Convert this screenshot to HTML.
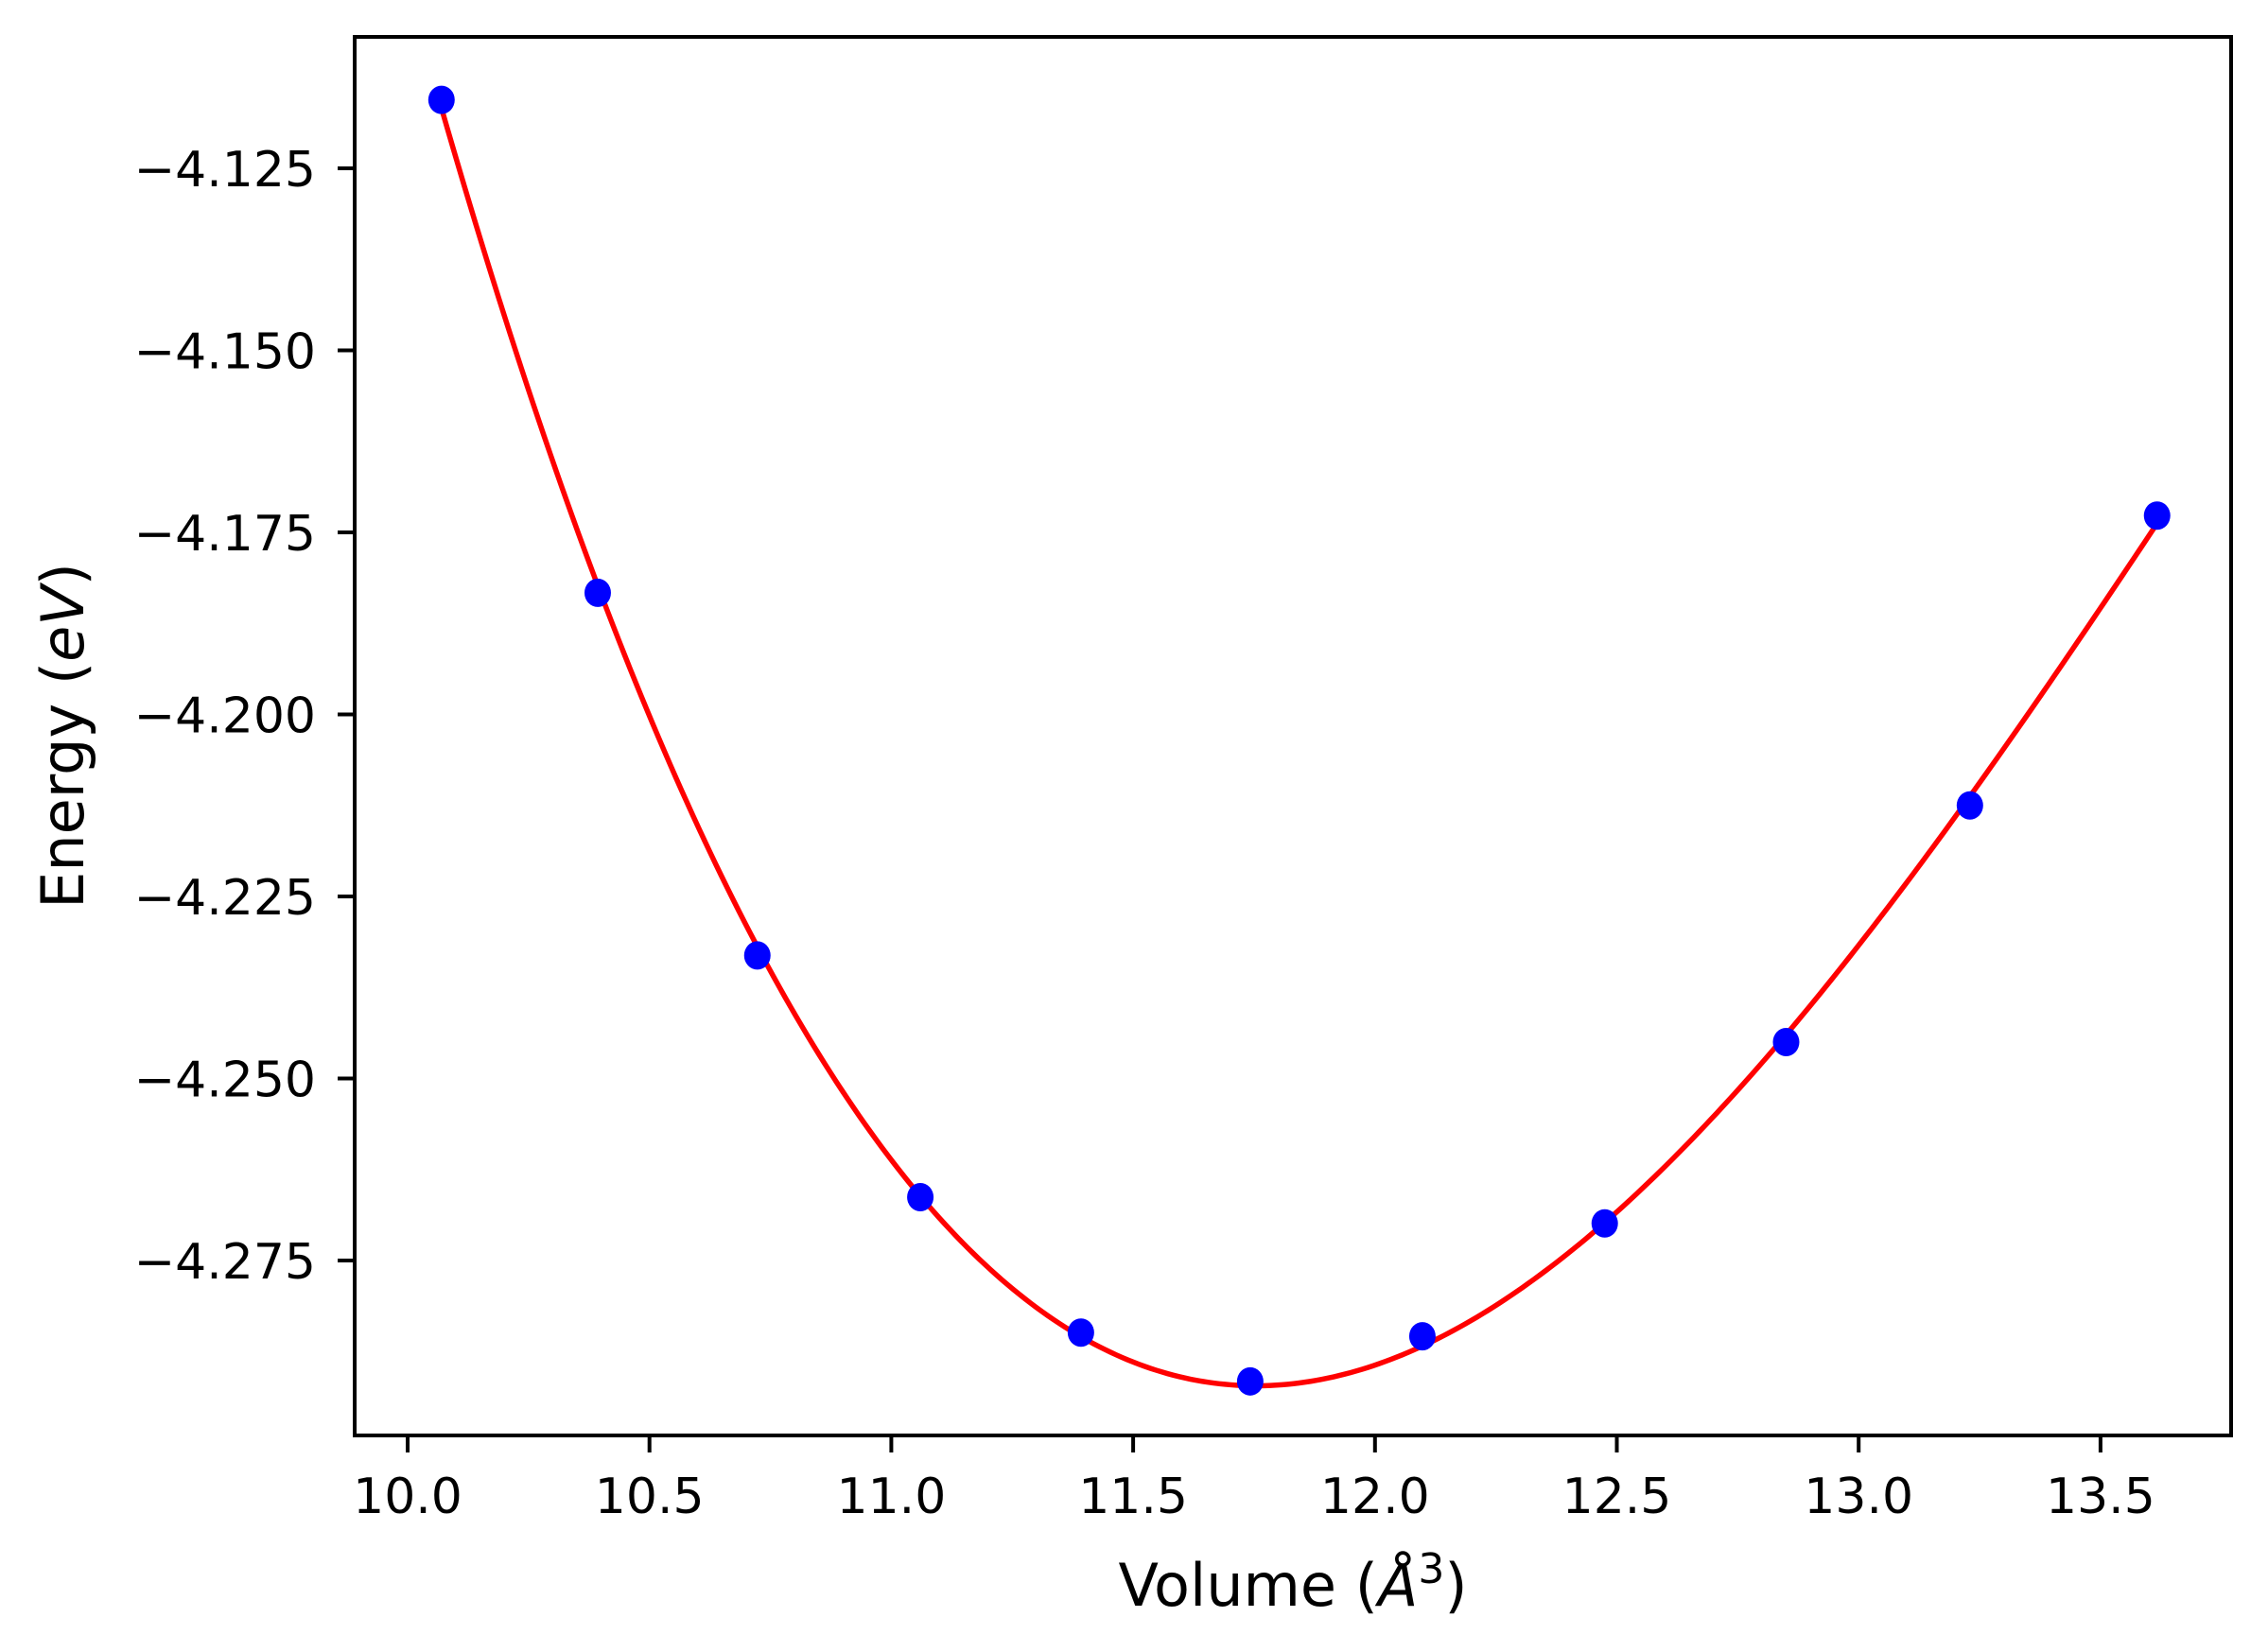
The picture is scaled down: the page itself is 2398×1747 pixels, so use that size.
<!DOCTYPE html>
<html><head><meta charset="utf-8"><style>
html,body{margin:0;padding:0;background:#fff;}
svg{display:block;font-family:"DejaVu Sans","Liberation Sans",sans-serif;}
</style></head><body>
<svg id="chart" width="2398" height="1747" viewBox="0 0 2398 1747">
<rect x="0" y="0" width="2398" height="1747" fill="#fff"/>
<g id="plot"></g>
<g id="xaxis"></g>
<g id="yaxis"></g>
<rect x="375" y="39" width="1984" height="1479" fill="none" stroke="#000" stroke-width="4"/>
<text x="1367" y="1698" font-size="62" text-anchor="middle">Volume (<tspan font-style="italic">Å</tspan><tspan font-size="44" dy="-24">3</tspan><tspan dy="24">)</tspan></text>
<text transform="translate(88,778) rotate(-90)" font-size="62" text-anchor="middle">Energy (<tspan font-style="italic">eV</tspan>)</text>
</svg>
<script>
const volumes = [10.07, 10.393, 10.723, 11.06, 11.392, 11.742, 12.098, 12.475, 12.85, 13.23, 13.617];
const energies = [-4.1156, -4.1833, -4.2331, -4.2663, -4.2849, -4.2916, -4.2854, -4.2699, -4.2450, -4.2125, -4.1727];
const xTicks = [10.0, 10.5, 11.0, 11.5, 12.0, 12.5, 13.0, 13.5];
const xTickLabels = ["10.0","10.5","11.0","11.5","12.0","12.5","13.0","13.5"];
const yTicks = [-4.125, -4.150, -4.175, -4.200, -4.225, -4.250, -4.275];
const yTickLabels = ["\u22124.125","\u22124.150","\u22124.175","\u22124.200","\u22124.225","\u22124.250","\u22124.275"];

const NS = "http://www.w3.org/2000/svg";
function X(v){ return 431 + (v - 10.0) * 511.4; }
function Y(e){ return 178 + (-4.125 - e) / 0.025 * 192.5; }
function mk(tag, attrs, parent){ const el = document.createElementNS(NS, tag); for (const k in attrs) el.setAttribute(k, attrs[k]); parent.appendChild(el); return el; }

// cubic least-squares fit from the data arrays (represents the EOS fit curve)
function fitCubic(xs, ys){
  const n = 4, xm = xs.reduce((a,b)=>a+b,0)/xs.length;
  const A = [...Array(n)].map(()=>Array(n+1).fill(0));
  xs.forEach((x,i)=>{ const t = x - xm; const p=[1,t,t*t,t*t*t];
    for(let r=0;r<n;r++){ for(let c=0;c<n;c++) A[r][c]+=p[r]*p[c]; A[r][n]+=p[r]*ys[i]; } });
  for(let i=0;i<n;i++){ let m=i; for(let r=i+1;r<n;r++) if(Math.abs(A[r][i])>Math.abs(A[m][i])) m=r; [A[i],A[m]]=[A[m],A[i]];
    for(let r=0;r<n;r++){ if(r===i) continue; const f=A[r][i]/A[i][i]; for(let c=i;c<=n;c++) A[r][c]-=f*A[i][c]; } }
  const co = A.map((row,i)=>row[n]/row[i]);
  return v => { const t=v-xm; return co[0]+co[1]*t+co[2]*t*t+co[3]*t*t*t; };
}

const plot = document.getElementById('plot');
const f = fitCubic(volumes, energies);
const v0 = Math.min(...volumes), v1 = Math.max(...volumes);
let d = "";
for (let i = 0; i <= 300; i++) { const v = v0 + (v1 - v0) * i / 300; d += (i ? "L" : "M") + X(v).toFixed(2) + "," + Y(f(v)).toFixed(2); }
const line = mk('path', {d: d, fill: 'none', stroke: '#ff0000', 'stroke-width': 5.5}, plot);


volumes.forEach((v, i) => {
  const c = mk('ellipse', {cx: X(v), cy: Y(energies[i]), rx: 14, ry: 15, fill: '#0000ff'}, plot);
  
  
});

const xa = document.getElementById('xaxis');
xTicks.forEach((t, i) => {
  const tk = mk('line', {x1: X(t), x2: X(t), y1: 1518, y2: 1536, stroke: '#000', 'stroke-width': 4}, xa);
  
  
  const lb = mk('text', {x: X(t), y: 1600, 'font-size': 52, 'text-anchor': 'middle'}, xa);
  lb.textContent = xTickLabels[i];
  
  
});
const ya = document.getElementById('yaxis');
yTicks.forEach((t, i) => {
  const tk = mk('line', {x1: 357, x2: 375, y1: Y(t), y2: Y(t), stroke: '#000', 'stroke-width': 4}, ya);
  
  
  const lb = mk('text', {x: 334, y: Y(t) + 19, 'font-size': 52, 'text-anchor': 'end'}, ya);
  lb.textContent = yTickLabels[i];
  
  
});
</script>
</body></html>
